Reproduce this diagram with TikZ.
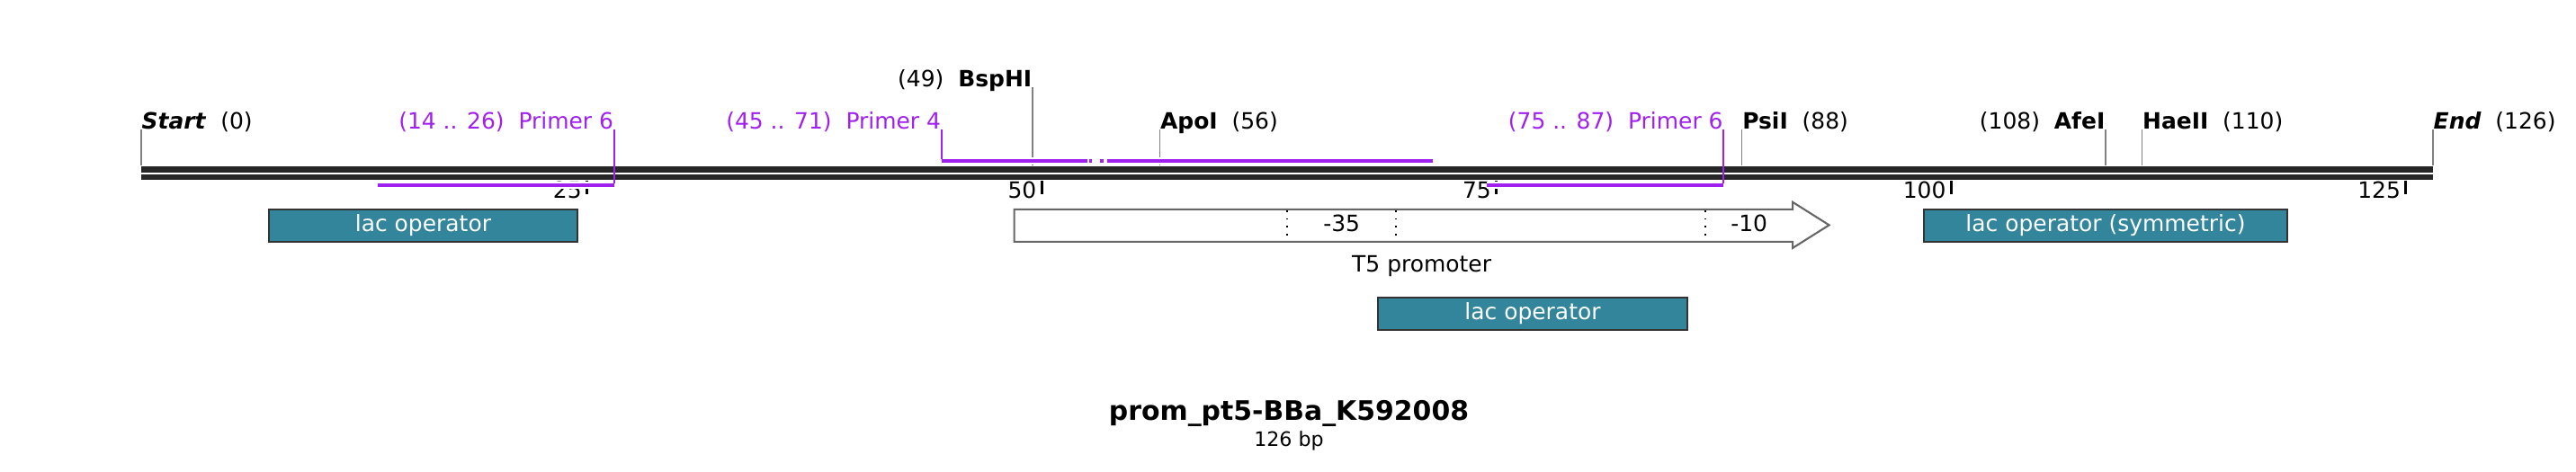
\documentclass[tikz,border=0pt]{standalone}
\usepackage{fontspec}
\setmainfont{DejaVu Sans}
\definecolor{dnaline}{HTML}{262626}
\definecolor{primerpurple}{HTML}{A020F0}
\definecolor{opteal}{HTML}{33859B}
\definecolor{boxedge}{HTML}{333333}
\definecolor{arrowedge}{HTML}{666666}
\definecolor{cutgray}{HTML}{808080}
\begin{document}
\begin{tikzpicture}[x=0.20222cm,y=-0.01cm,every node/.style={font=\fontsize{7.1}{8.5}\selectfont,inner sep=0pt}]
    \tikzset{
      strand/.style={dnaline,line width=1.9pt},
      cutline/.style={cutgray,line width=0.45pt},
      tickmark/.style={black,line width=0.85pt},
      primer/.style={primerpurple,line width=1.14pt,preaction={draw=white,line width=2.4pt}},
      primerleg/.style={primerpurple,line width=0.6pt},
      primerlab/.style={primerpurple,anchor=base east},
      opbox/.style={fill=opteal,draw=boxedge,line width=0.6pt},
      optext/.style={white,anchor=base},
      promoter/.style={fill=white,draw=arrowedge,line width=0.6pt},
      region/.style={black,dotted,line width=0.5pt}
    }
    \useasboundingbox (-7.764,0) rectangle (133.864,525);
    % backbone, two strands
    \draw[strand] (0,188.5) -- (126,188.5);
    \draw[strand,line width=1.7pt] (0,197) -- (126,197);
    % ruler
    \foreach \t in {25,50,75,100,125} {
      \coordinate (tick\t) at ({\t-0.5},201);
      \draw[tickmark] (tick\t) -- ++(0,15);
      \node[anchor=base east,xshift=-0.05cm] (ticklab\t) at ({\t-0.5},221) {\t};
    }
    % cut sites
    \foreach \pos/\nm/\lab in {0/start/{\textbf{\textit{Start}}~~(0)},56/apoi/{\textbf{ApoI}~~(56)},
        88/psii/{\textbf{PsiI}~~(88)},110/haeii/{\textbf{HaeII}~~(110)},126/stop/{\textbf{\textit{End}}~~(126)}} {
      \node[anchor=base west] (\nm) at (\pos,144) {\lab};
      \coordinate (\nm-cut) at (\pos,184);
      \draw[cutline] (\nm.base west) -- (\nm-cut);
    }
    \node[anchor=base east] (afei) at (108,144) {(108)~~\textbf{AfeI}};
    \coordinate (afei-cut) at (108,184);
    \draw[cutline] (afei.base east) -- (afei-cut);
    \node[anchor=base east] (bsphi) at (49,97) {(49)~~\textbf{BspHI}};
    \coordinate (bsphi-cut) at (49,184);
    \draw[cutline] (bsphi.base east) -- (bsphi-cut);
    % primers
    \node[primerlab] (p6a) at (26,144) {(14 .. 26)~~Primer 6};
    \coordinate (p6a-end) at (26,206);
    \coordinate (p6a-start) at (13,206);
    \draw[primer] (p6a-end) -- (p6a-start);
    \draw[primerleg] (p6a.base east) -- ([yshift=0.57pt]p6a-end);
    \node[primerlab] (p6b) at (87,144) {(75 .. 87)~~Primer 6};
    \coordinate (p6b-end) at (87,206);
    \coordinate (p6b-start) at (74,206);
    \draw[primer] (p6b-end) -- (p6b-start);
    \draw[primerleg] (p6b.base east) -- ([yshift=0.57pt]p6b-end);
    \node[primerlab] (p4) at (44,144) {(45 .. 71)~~Primer 4};
    \coordinate (p4-start) at (44,179);
    \coordinate (p4-gap) at (52,179);
    \coordinate (p4-resume) at (53.1,179);
    \coordinate (p4-end) at (71,179);
    \draw[primer] (p4-start) -- (p4-gap);
    \draw[primer] (p4-resume) -- (p4-end);
    \draw[primerleg] (p4.base east) -- ([yshift=0.57pt]p4-start);
    \foreach \a/\b in {52.13/52.28,52.72/52.92}
      \draw[primerpurple,line width=1.14pt] (\a,179) -- (\b,179);
    % operators
    \draw[opbox] (7,233) rectangle (24,269);
    \node[optext] (lac1) at (15.5,258) {lac operator};
    \draw[opbox] (68,331) rectangle (85,367);
    \node[optext] (lac2) at (76.5,356) {lac operator};
    \draw[opbox] (98,233) rectangle (118,269);
    \node[optext] (lac3) at (108,258) {lac operator (symmetric)};
    % T5 promoter
    \draw[promoter] (48,233) -- (90.8,233) -- (90.8,225) -- (92.8,250.5)
      -- (90.8,276) -- (90.8,269) -- (48,269) -- cycle;
    \foreach \r in {63,69,86}
      \draw[region] (\r,234) -- (\r,268);
    \node[anchor=base] (box35) at (66,258) {-35};
    \node[anchor=base] (box10) at (88.4,258) {-10};
    \node[anchor=base] (t5) at (70.4,303) {T5 promoter};
    % title
    \node[anchor=base,font=\fontsize{8.5}{10}\selectfont\bfseries] (title) at (63.1,468) {prom\_pt5-BBa\_K592008};
    \node[anchor=base,font=\fontsize{6.3}{7.5}\selectfont] (size) at (63.1,497) {126 bp};
  \end{tikzpicture}
\end{document}
